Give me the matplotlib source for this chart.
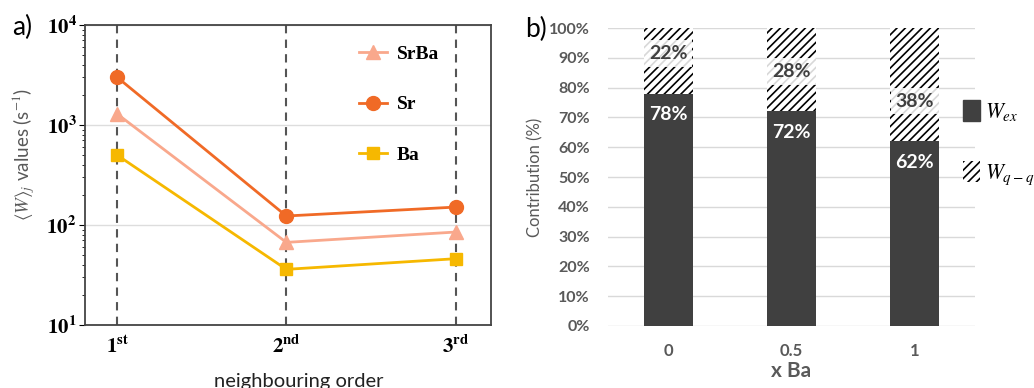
import numpy as np
import matplotlib.pyplot as plt
from matplotlib.patches import Patch

plt.rcParams['mathtext.fontset'] = 'stix'
plt.rcParams['hatch.linewidth'] = 1.2

# panel a) data
orders = [1, 2, 3]
order_labels = [r'$\mathbf{1^{st}}$', r'$\mathbf{2^{nd}}$', r'$\mathbf{3^{rd}}$']
w_srba = [1290, 67, 85]
w_sr = [3000, 123, 151]
w_ba = [500, 36, 46]

# panel b) data
x_ba = ['0', '0.5', '1']
w_ex = [78, 72, 62]
w_qq = [22, 28, 38]

serif = 'Liberation Serif'
sans = 'Lato'
grey_txt = '#595959'

fig = plt.figure(figsize=(10.34, 3.88), dpi=100)

# ---------- a) ----------
ax1 = fig.add_axes([0.0822, 0.1624, 0.3927, 0.7732])
ax1.set_yscale('log')
ax1.set_ylim(10, 1e4)
ax1.set_xlim(0.81, 3.21)
for x in orders:
    ax1.axvline(x, color='#555555', ls=(0, (4, 3)), lw=1.5, zorder=1)
ax1.yaxis.grid(True, which='major', color='#dddddd', lw=1)
ax1.set_axisbelow(True)

ax1.plot(orders, w_srba, '-^', color='#F9A88C', lw=2, ms=10, label='SrBa', zorder=3)
ax1.plot(orders, w_sr, '-o', color='#F06A26', lw=2, ms=10, label='Sr', zorder=4)
ax1.plot(orders, w_ba, '-s', color='#F6B800', lw=2, ms=9, label='Ba', zorder=3)

ax1.set_xticks(orders)
ax1.set_xticklabels(order_labels, fontsize=15, family=serif)
ax1.tick_params(axis='x', length=0, pad=8)
ax1.set_yticks([10, 100, 1000, 10000])
ax1.set_yticklabels([r'$\mathbf{10^1}$', r'$\mathbf{10^2}$', r'$\mathbf{10^3}$', r'$\mathbf{10^4}$'],
                    fontsize=15)
ax1.tick_params(axis='y', which='major', length=4, pad=2)
ax1.tick_params(axis='y', which='minor', length=2)
for s in ax1.spines.values():
    s.set_color('#444444')
    s.set_linewidth(1.3)

ax1.set_ylabel(r'$\langle W\rangle_j$ values (s$^{-1}$)', fontsize=13.5, color=grey_txt,
               family=sans)
ax1.yaxis.set_label_coords(-0.118, 0.57)
ax1.set_xlabel('neighbouring order', fontsize=14.5, family=sans, color='#222222')
ax1.xaxis.set_label_coords(0.527, -0.16)

ax1.legend(loc='upper right', bbox_to_anchor=(0.895, 0.965), frameon=False,
           borderpad=0, labelspacing=1.7, handlelength=1.4, handletextpad=0.5,
           prop={'family': serif, 'weight': 'bold', 'size': 14})

fig.text(0.012, 0.93, 'a)', fontsize=19, family=sans, va='center')

# ---------- b) ----------
ax2 = fig.add_axes([0.588, 0.1598, 0.355, 0.768])
pos = np.arange(len(x_ba))
ax2.bar(pos, w_ex, width=0.4, color='#404040', zorder=2)
ax2.bar(pos, w_qq, width=0.4, bottom=w_ex, color='white', edgecolor='black',
        hatch='////', linewidth=0, zorder=2)
ax2.set_ylim(0, 100)
ax2.set_xlim(-0.49, 2.49)
ax2.set_yticks(np.arange(0, 101, 10))
ax2.set_yticklabels([f'{v}%' for v in range(0, 101, 10)], fontsize=11.5, weight='bold',
                    color=grey_txt, family=sans)
ax2.set_xticks(pos)
ax2.set_xticklabels(x_ba, fontsize=12, weight='bold', color=grey_txt, family=sans)
ax2.tick_params(length=0)
ax2.tick_params(axis='y', pad=13)
ax2.tick_params(axis='x', pad=12)
ax2.yaxis.grid(True, color='#d9d9d9', lw=1)
ax2.set_axisbelow(True)
for s in ax2.spines.values():
    s.set_visible(False)

for i in range(len(x_ba)):
    ax2.text(pos[i], w_ex[i] - 7, f'{w_ex[i]}%', ha='center', va='center', color='white',
             fontsize=14, weight='bold', family=sans, zorder=4)
    ax2.text(pos[i], w_ex[i] + 13.5, f'{w_qq[i]}%', ha='center', va='center',
             color='#404040', fontsize=14, weight='bold', family=sans, zorder=4,
             bbox=dict(boxstyle='square,pad=0.25', fc='white', ec='none', alpha=0.85))

ax2.set_ylabel('Contribution (%)', fontsize=12, color=grey_txt, family=sans, labelpad=4)
ax2.set_xlabel('x Ba', fontsize=15, weight='bold', color=grey_txt, family=sans, labelpad=2)

handles = [Patch(facecolor='#404040', edgecolor='#404040', label=r'$W_{ex}$'),
           Patch(facecolor='white', edgecolor='black', hatch='////', lw=0, label=r'$W_{q-q}$')]
ax2.legend(handles=handles, loc='center left', bbox_to_anchor=(0.921, 0.63),
           bbox_transform=fig.transFigure, frameon=False, fontsize=15.5, borderpad=0,
           handlelength=0.8, handleheight=1.1, handletextpad=0.2, labelspacing=1.8)

fig.text(0.508, 0.925, 'b)', fontsize=19, family=sans, va='center')

fig.savefig('out.png', dpi=100)
